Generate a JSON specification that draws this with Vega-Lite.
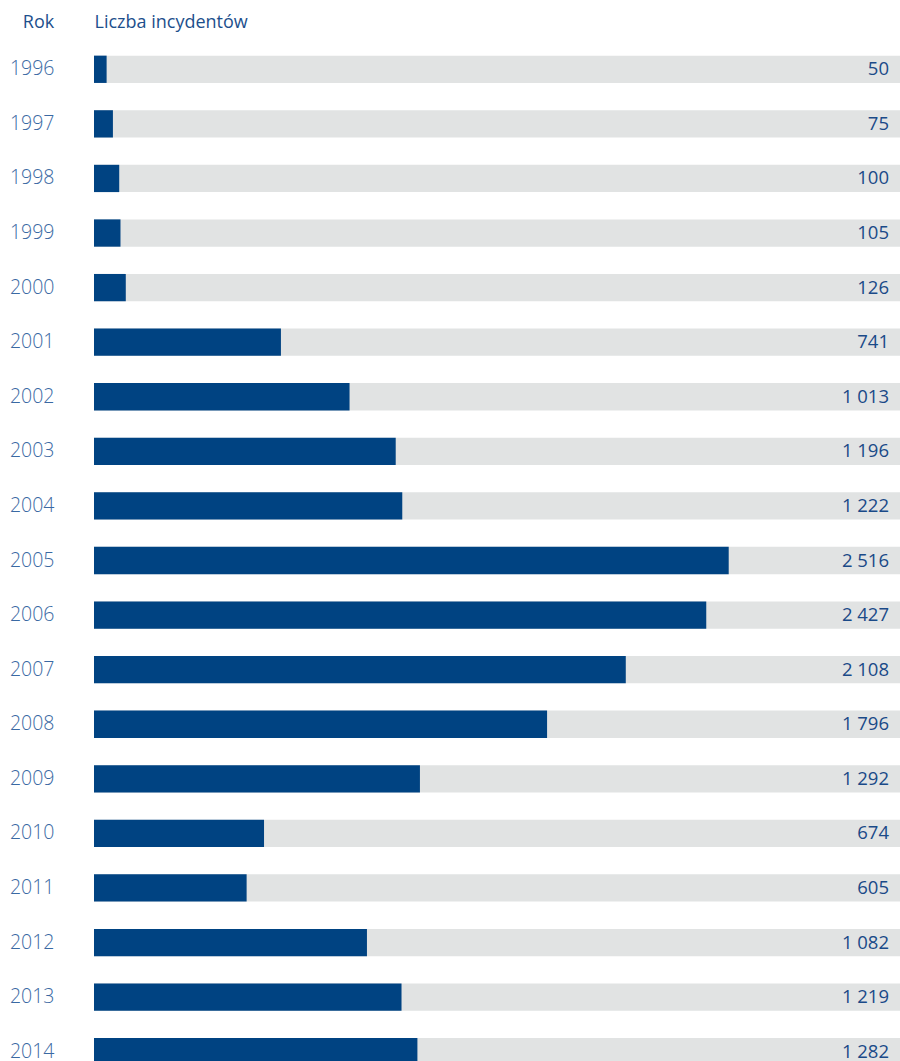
{
  "$schema": "https://vega.github.io/schema/vega-lite/v6.json",
  "width": 806,
  "height": 1037,
  "autosize": "none",
  "padding": {"left": 94, "top": 42, "right": 0, "bottom": 0},
  "background": "white",
  "config": {
    "locale": {"number": {"decimal": ",", "thousands": " ", "grouping": [3], "currency": ["", " zł"]}},
    "view": {"stroke": null},
    "font": "Open Sans"
  },
  "data": {"values": [
    {"rok": "1996", "liczba": 50},
    {"rok": "1997", "liczba": 75},
    {"rok": "1998", "liczba": 100},
    {"rok": "1999", "liczba": 105},
    {"rok": "2000", "liczba": 126},
    {"rok": "2001", "liczba": 741},
    {"rok": "2002", "liczba": 1013},
    {"rok": "2003", "liczba": 1196},
    {"rok": "2004", "liczba": 1222},
    {"rok": "2005", "liczba": 2516},
    {"rok": "2006", "liczba": 2427},
    {"rok": "2007", "liczba": 2108},
    {"rok": "2008", "liczba": 1796},
    {"rok": "2009", "liczba": 1292},
    {"rok": "2010", "liczba": 674},
    {"rok": "2011", "liczba": 605},
    {"rok": "2012", "liczba": 1082},
    {"rok": "2013", "liczba": 1219},
    {"rok": "2014", "liczba": 1282}
  ]},
  "encoding": {
    "y": {
      "field": "rok", "type": "ordinal", "sort": null,
      "scale": {"paddingInner": 0.5, "paddingOuter": 0.25},
      "axis": {
        "title": "Rok", "titleAngle": 0, "titleAlign": "center", "titleBaseline": "middle",
        "titleX": -56, "titleY": -20, "titleFont": "Open Sans", "titleFontSize": 18, "titleFontWeight": "normal", "titleColor": "#1d4f8c",
        "domain": false, "ticks": false, "labelPadding": 40, "labelAlign": "right",
        "labelFont": "Open Sans", "labelFontWeight": 300, "labelFontSize": 19.5, "labelColor": "#3a69a3"
      }
    }
  },
  "layer": [
    {
      "mark": {"type": "bar", "color": "#e1e3e3"},
      "encoding": {
        "x": {"datum": 3195, "type": "quantitative", "scale": {"domain": [0, 3195], "nice": false, "zero": true},
          "axis": {"orient": "top", "title": "Liczba incydentów", "titleAnchor": "start", "titleAlign": "left", "titleBaseline": "middle",
            "titleX": 0, "titleY": -20, "titleFont": "Open Sans", "titleFontSize": 18, "titleFontWeight": "normal", "titleColor": "#1d4f8c",
            "labels": false, "ticks": false, "domain": false, "grid": false}}
      }
    },
    {
      "mark": {"type": "bar", "color": "#004382"},
      "encoding": {"x": {"field": "liczba", "type": "quantitative"}}
    },
    {
      "mark": {"type": "text", "align": "right", "baseline": "middle", "dx": -11, "fontSize": 18.5, "color": "#1a4a88", "font": "Open Sans"},
      "encoding": {
        "x": {"datum": 3195, "type": "quantitative"},
        "text": {"field": "liczba", "type": "quantitative", "format": ",d"}
      }
    }
  ]
}
